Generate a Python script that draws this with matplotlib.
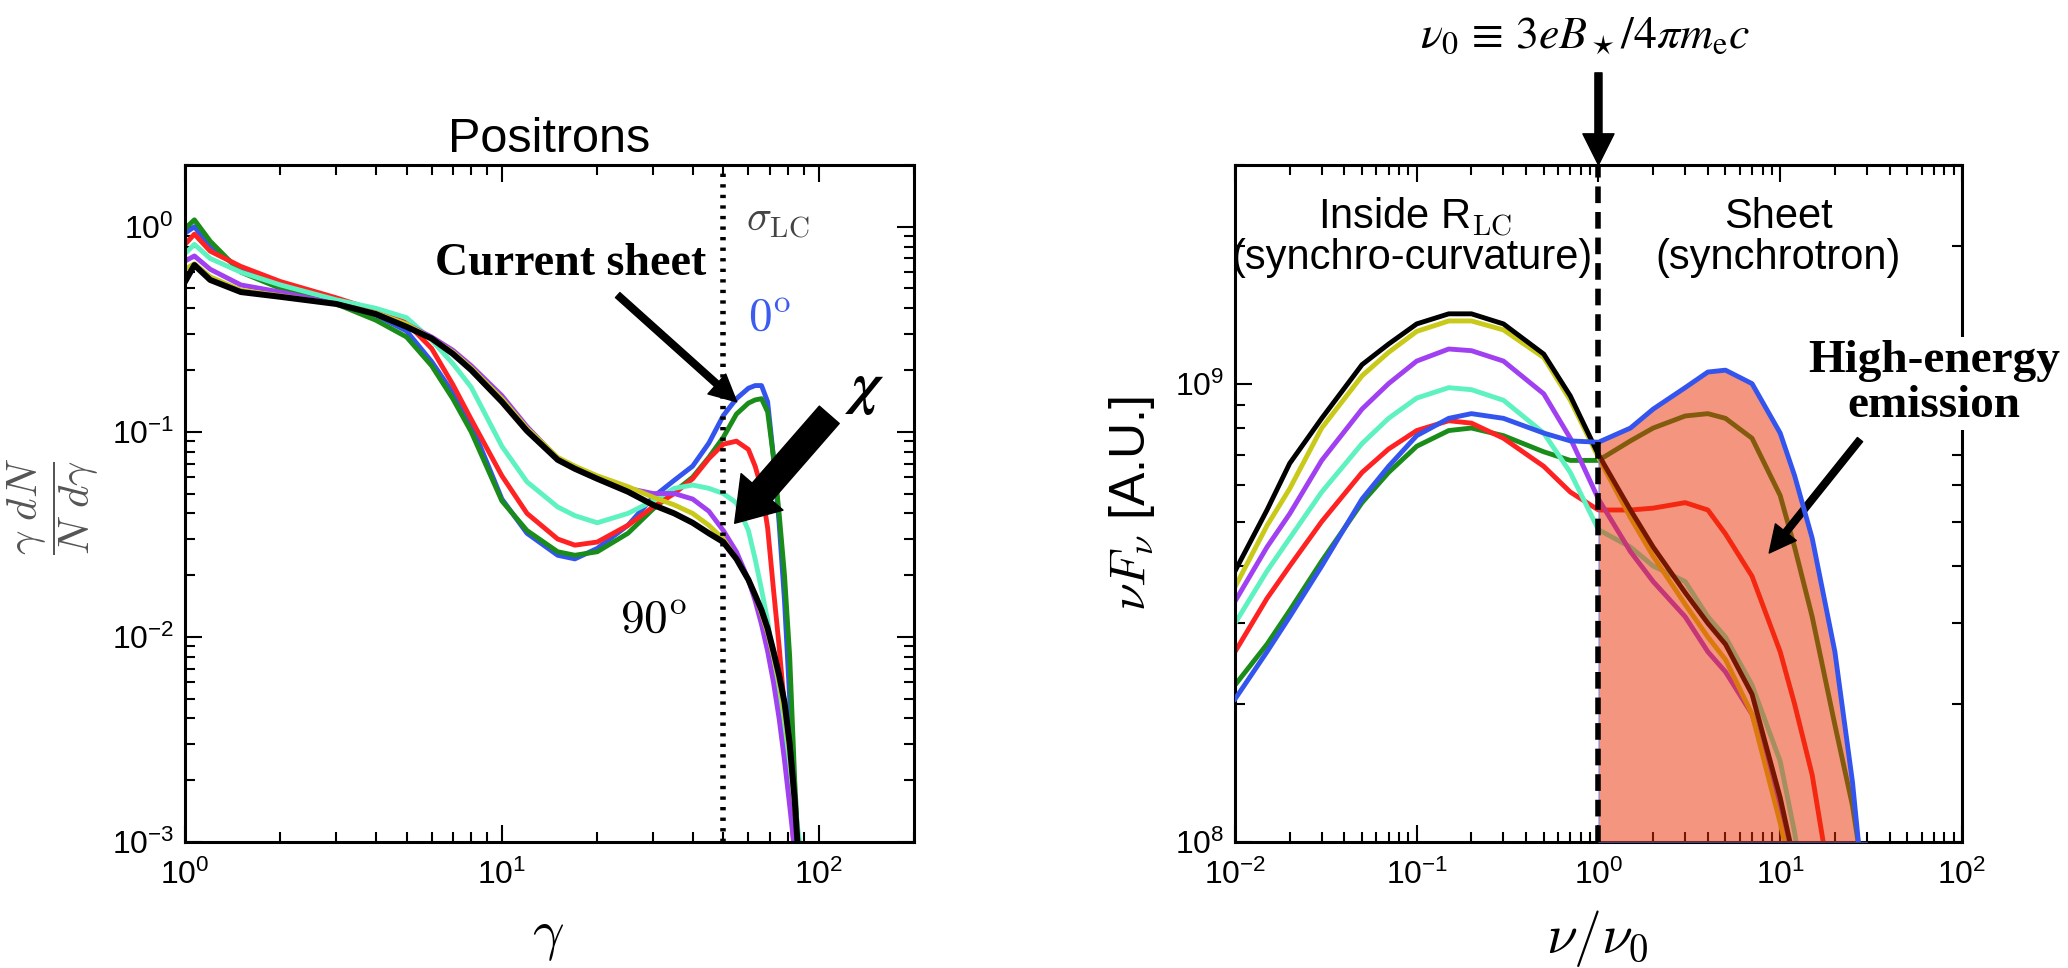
import matplotlib
matplotlib.use("Agg")
import matplotlib.pyplot as plt
from matplotlib.ticker import NullFormatter

plt.rcParams["font.family"] = ["Liberation Sans", "DejaVu Sans"]
plt.rcParams["mathtext.fontset"] = "cm"

# ---- left panel: positron spectra for several angles chi ----
gamma = [1.0, 1.07, 1.2, 1.5, 2, 3, 4, 5, 6, 7, 8, 10, 12, 15, 17, 20, 25, 30,
         35, 40, 45, 50, 55, 60, 63, 66, 69, 72, 75, 78, 81, 84, 87, 90]

pos_0 = [0.93, 1.00, 0.80, 0.62, 0.52, 0.43, 0.37, 0.31, 0.22, 0.155, 0.109, 0.047,
         0.032, 0.025, 0.024, 0.027, 0.035, 0.048, 0.058, 0.068, 0.088, 0.12, 0.145,
         0.163, 0.168, 0.168, 0.14, 0.075, 0.036, 0.015, 0.005, 0.0012, 0.0004, 0.0001]
pos_15 = [0.98, 1.08, 0.85, 0.60, 0.50, 0.42, 0.35, 0.29, 0.21, 0.145, 0.10, 0.046,
          0.033, 0.026, 0.025, 0.026, 0.032, 0.042, 0.051, 0.060, 0.075, 0.094, 0.122,
          0.138, 0.143, 0.145, 0.125, 0.075, 0.040, 0.020, 0.008, 0.002, 0.0007, 0.0002]
pos_30 = [0.82, 0.92, 0.76, 0.64, 0.54, 0.45, 0.39, 0.34, 0.255, 0.17, 0.115, 0.061,
          0.040, 0.030, 0.028, 0.029, 0.035, 0.043, 0.050, 0.059, 0.074, 0.087, 0.090,
          0.082, 0.068, 0.053, 0.034, 0.017, 0.009, 0.0045, 0.002, 0.0008, 0.0003, 0.0001]
pos_45 = [0.74, 0.82, 0.70, 0.60, 0.52, 0.44, 0.40, 0.36, 0.28, 0.215, 0.165, 0.085,
          0.057, 0.043, 0.039, 0.036, 0.040, 0.046, 0.053, 0.055, 0.053, 0.050, 0.045,
          0.033, 0.024, 0.017, 0.012, 0.0075, 0.005, 0.0033, 0.0022, 0.0015, 0.001, 0.0005]
pos_60 = [0.68, 0.72, 0.62, 0.52, 0.48, 0.42, 0.38, 0.335, 0.29, 0.25, 0.21, 0.15,
          0.106, 0.074, 0.066, 0.059, 0.053, 0.050, 0.050, 0.047, 0.041, 0.033, 0.026,
          0.019, 0.015, 0.0115, 0.0085, 0.006, 0.004, 0.0025, 0.0015, 0.0009, 0.0005, 0.0003]
pos_75 = [0.62, 0.66, 0.57, 0.49, 0.46, 0.42, 0.38, 0.335, 0.285, 0.245, 0.205, 0.145,
          0.104, 0.075, 0.068, 0.061, 0.054, 0.048, 0.044, 0.040, 0.035, 0.030, 0.024,
          0.019, 0.016, 0.013, 0.0105, 0.008, 0.006, 0.0042, 0.0027, 0.0015, 0.0008, 0.0004]
pos_90 = [0.54, 0.65, 0.55, 0.48, 0.455, 0.42, 0.375, 0.325, 0.285, 0.24, 0.20, 0.14,
          0.101, 0.073, 0.066, 0.059, 0.051, 0.044, 0.040, 0.036, 0.032, 0.029, 0.024,
          0.019, 0.016, 0.0135, 0.011, 0.0085, 0.0065, 0.0048, 0.003, 0.0016, 0.0007, 0.0003]

sigma_lc = 50

# ---- right panel: nu F_nu spectra (units of 1e8) ----
nu = [0.01, 0.015, 0.02, 0.03, 0.05, 0.07, 0.1, 0.15, 0.2, 0.3, 0.5, 0.7, 1.0,
      1.5, 2, 3, 4, 5, 7, 10, 12, 15, 20, 25, 30]

sed_0 = [2.05, 2.6, 3.1, 4.0, 5.6, 6.6, 7.7, 8.4, 8.6, 8.4, 7.8, 7.5, 7.45,
         8.0, 8.8, 9.8, 10.6, 10.7, 10.0, 7.8, 6.3, 4.6, 2.6, 1.35, 0.65]
sed_15 = [2.2, 2.7, 3.2, 4.1, 5.5, 6.4, 7.3, 7.9, 8.0, 7.7, 7.1, 6.8, 6.8,
          7.5, 8.0, 8.5, 8.6, 8.4, 7.6, 5.7, 4.4, 3.1, 1.8, 1.2, 0.75]
sed_30 = [2.6, 3.4, 4.0, 5.0, 6.4, 7.2, 7.9, 8.3, 8.2, 7.6, 6.6, 5.8, 5.3,
          5.3, 5.35, 5.5, 5.3, 4.7, 3.8, 2.6, 2.0, 1.4, 0.7, 0.35, 0.2]
sed_45 = [3.0, 3.9, 4.6, 5.8, 7.4, 8.4, 9.3, 9.8, 9.7, 9.2, 7.8, 6.4, 4.8,
          4.4, 4.0, 3.7, 3.1, 2.8, 2.2, 1.5, 1.05, 0.6, 0.25, 0.1, 0.05]
sed_60 = [3.35, 4.4, 5.2, 6.8, 8.8, 10.0, 11.2, 11.9, 11.8, 11.2, 9.5, 7.6, 5.6,
          4.3, 3.7, 3.1, 2.6, 2.35, 1.9, 1.2, 0.85, 0.45, 0.2, 0.08, 0.04]
sed_75 = [3.6, 4.9, 5.9, 8.0, 10.4, 11.7, 13.0, 13.7, 13.7, 13.1, 11.4, 9.2, 6.9,
          5.1, 4.2, 3.3, 2.8, 2.5, 1.9, 1.1, 0.8, 0.4, 0.15, 0.06, 0.03]
sed_90 = [3.9, 5.3, 6.7, 8.4, 11.0, 12.2, 13.5, 14.2, 14.2, 13.5, 11.6, 9.4, 7.0,
          5.3, 4.4, 3.5, 3.0, 2.7, 2.1, 1.25, 0.9, 0.45, 0.18, 0.07, 0.03]
sed_unit = 1e8

colors = ["#3355ee", "#1a8c1a", "#ff2222", "#5ef2c0", "#a040f0", "#c9c91a", "black"]
left_series = [pos_0, pos_15, pos_30, pos_45, pos_60, pos_75, pos_90]
right_series = [sed_0, sed_15, sed_30, sed_45, sed_60, sed_75, sed_90]


def style_axes(ax):
    ax.tick_params(which="both", direction="in", top=True, right=True,
                   labelsize=23, width=1.5)
    ax.tick_params(which="major", length=12)
    ax.tick_params(which="minor", length=7)
    ax.tick_params(axis="x", which="major", pad=13)
    ax.tick_params(axis="y", which="major", pad=8)
    ax.xaxis.set_minor_formatter(NullFormatter())
    ax.yaxis.set_minor_formatter(NullFormatter())
    for s in ax.spines.values():
        s.set_linewidth(2.2)


thin_arrow = dict(arrowstyle="simple, head_length=1.2, head_width=1.2, tail_width=0.3",
                  color="black", mutation_scale=16, shrinkA=0, shrinkB=0)

fig = plt.figure(figsize=(20.68, 9.68), dpi=100)
ax1 = fig.add_axes([0.0895, 0.1302, 0.3525, 0.6994])
ax2 = fig.add_axes([0.5972, 0.1302, 0.3515, 0.6994])

# left panel
for vals, c in zip(left_series, colors):
    lw = 4.3 if c == "black" else 3.5
    ax1.plot(gamma, vals, color=c, lw=lw, solid_joinstyle="round")
ax1.axvline(sigma_lc, color="black", lw=4, ls=(0, (0.6, 1.3)))
ax1.set_xscale("log")
ax1.set_yscale("log")
ax1.set_xlim(1, 200)
ax1.set_ylim(1e-3, 2)
style_axes(ax1)
ax1.set_title("Positrons", fontsize=35, pad=9)
ax1.set_xlabel(r"$\gamma$", fontsize=40, va="center")
ax1.xaxis.set_label_coords(0.498, -0.140)
ax1.set_ylabel(r"$\dfrac{\gamma\ dN}{N\ d\gamma}$", fontsize=31, color="#555555", va="center")
ax1.yaxis.set_label_coords(-0.181, 0.495)

ax1.text(74, 1.06, r"$\sigma_{\rm LC}$", fontsize=30, color="#444444", ha="center", va="center")
ax1.text(70, 0.36, r"$0^{\rm o}$", fontsize=34, color="#3c5cf0", ha="center", va="center")
ax1.text(30, 0.0121, r"$90^{\rm o}$", fontsize=34, color="black", ha="center", va="center")
ax1.text(16.5, 0.66, "Current sheet", fontsize=33, fontweight="bold",
         family=["Liberation Serif", "DejaVu Serif"], ha="center", va="center")
ax1.annotate("", xy=(55.1, 0.140), xytext=(23.2, 0.464), arrowprops=thin_arrow)
ax1.text(140, 0.159, r"$\boldsymbol{\chi}$", fontsize=42, math_fontfamily="stix",
         ha="center", va="center")
ax1.annotate("", xy=(54.3, 0.0358), xytext=(108, 0.121),
             arrowprops=dict(arrowstyle="simple, head_length=1.5, head_width=2.0, tail_width=0.95",
                             color="black", mutation_scale=20, shrinkA=0, shrinkB=0))

# right panel
nu_vals = [[v * sed_unit for v in s] for s in right_series]
for vals, c in zip(nu_vals, colors):
    z = 4 if c == colors[0] else 2
    ax2.plot(nu, vals, color=c, lw=3.5, zorder=z, solid_joinstyle="round")
sheet_nu = [x for x in nu if x >= 1.0]
sheet_top = [v for x, v in zip(nu, nu_vals[0]) if x >= 1.0]
ax2.fill_between(sheet_nu, sed_unit, sheet_top, facecolor="#eb2d00", alpha=0.5,
                 edgecolor="#5577ee", lw=1.2, zorder=3)
ax2.axvline(1.0, color="black", lw=4, ls=(0, (3, 1.6)), zorder=5)
ax2.set_xscale("log")
ax2.set_yscale("log")
ax2.set_xlim(1e-2, 1e2)
ax2.set_ylim(1e8, 3e9)
style_axes(ax2)
ax2.set_xlabel(r"$\nu/\nu_0$", fontsize=40, va="center")
ax2.xaxis.set_label_coords(0.498, -0.142)
ax2.set_ylabel(r"$\nu F_\nu$ [A.U.]", fontsize=36, va="center")
ax2.yaxis.set_label_coords(-0.142, 0.50)

ax2.text(0.0976, 2.31e9, r"Inside R$_{\rm LC}$", fontsize=30, ha="center", va="center")
ax2.text(0.094, 1.88e9, "(synchro-curvature)", fontsize=30, ha="center", va="center")
ax2.text(9.75, 2.31e9, "Sheet", fontsize=30, ha="center", va="center")
ax2.text(9.75, 1.88e9, "(synchrotron)", fontsize=30, ha="center", va="center")
ax2.text(70, 1.0e9, "High-energy\nemission", fontsize=34, fontweight="bold",
         family=["Liberation Serif", "DejaVu Serif"], ha="center", va="center",
         linespacing=1.1, clip_on=False, zorder=6,
         bbox=dict(facecolor="white", edgecolor="none", pad=2))
ax2.annotate("", xy=(8.7, 4.27e8), xytext=(27.5, 7.55e8), arrowprops=thin_arrow)

ax2.annotate("", xy=(1.0, 1.0), xycoords=("data", "axes fraction"),
             xytext=(1.0, 1.136), textcoords=("data", "axes fraction"),
             arrowprops=dict(arrowstyle="simple, head_length=1.4, head_width=1.4, tail_width=0.32",
                             color="black", mutation_scale=16, shrinkA=0, shrinkB=0))
fig.text(0.7665, 0.962, r"$\nu_0\,\equiv\,3eB_\star/4\pi m_{\rm e}c$", fontsize=33,
         math_fontfamily="stix", ha="center", va="center")

fig.savefig("out.png", dpi=100)
